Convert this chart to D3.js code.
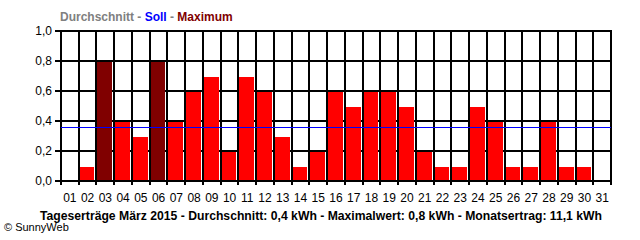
<!DOCTYPE html>
<html>
<head>
<meta charset="utf-8">
<script src="https://cdn.jsdelivr.net/npm/d3@7"></script>
<style>
  body { margin: 0; background: #fff; }
  text { font-family: "Liberation Sans", Arial, sans-serif; }
</style>
</head>
<body>
<div id="chart"></div>
<script>
  // Tageserträge März 2015
  var days = ["01","02","03","04","05","06","07","08","09","10","11","12","13","14","15","16",
              "17","18","19","20","21","22","23","24","25","26","27","28","29","30","31"];
  var ertrag = [0, 0.1, 0.8, 0.4, 0.3, 0.8, 0.4, 0.6, 0.7, 0.2, 0.7, 0.6, 0.3, 0.1, 0.2, 0.6,
                0.5, 0.6, 0.6, 0.5, 0.2, 0.1, 0.1, 0.5, 0.4, 0.1, 0.1, 0.4, 0.1, 0.1, 0];
  var yTicks = [0, 0.2, 0.4, 0.6, 0.8, 1.0];
  var sollLine = 0.357;
  var caption = "Tageserträge März 2015 - Durchschnitt: 0,4 kWh - Maximalwert: 0,8 kWh - Monatsertrag: 11,1 kWh";

  var width = 640, height = 240;

  var svg = d3.select("#chart").append("svg")
      .attr("width", width)
      .attr("height", height);

  var x = d3.scaleBand().domain(days).range([61, 611]);
  var y = d3.scaleLinear().domain([0, 1]).range([181, 31]);

  var de = d3.formatLocale({decimal: ",", thousands: ".", grouping: [3], currency: ["", "€"]});
  var fmt = de.format(".1f");
  var maxVal = d3.max(ertrag);

  // legend line on top
  var legend = svg.append("text")
      .attr("x", 60)
      .attr("y", 21)
      .style("font-size", "12px")
      .style("font-weight", "bold");
  legend.append("tspan").attr("fill", "#808080").text("Durchschnitt - ");
  legend.append("tspan").attr("fill", "#0000ff").text("Soll");
  legend.append("tspan").attr("fill", "#808080").text(" - ");
  legend.append("tspan").attr("fill", "#800000").text("Maximum");

  // horizontal grid lines (with small tick to the left)
  svg.append("g")
    .selectAll("line")
    .data(yTicks)
    .enter().append("line")
      .attr("x1", 55)
      .attr("x2", x.range()[1] + 1)
      .attr("y1", function(d) { return Math.round(y(d)); })
      .attr("y2", function(d) { return Math.round(y(d)); })
      .attr("stroke", "#000")
      .attr("stroke-width", 2);

  // vertical grid lines at day boundaries
  var bounds = days.map(function(d) { return x(d); }).concat([x.range()[1]]);
  svg.append("g")
    .selectAll("line")
    .data(bounds)
    .enter().append("line")
      .attr("x1", function(d) { return Math.round(d); })
      .attr("x2", function(d) { return Math.round(d); })
      .attr("y1", y(1) - 1)
      .attr("y2", y(0) + 4)
      .attr("stroke", "#000")
      .attr("stroke-width", 2);

  // bars
  svg.append("g")
    .selectAll("rect")
    .data(ertrag.map(function(v, i) { return {day: days[i], value: v}; }).filter(function(d) { return d.value > 0; }))
    .enter().append("rect")
      .attr("x", function(d) { return Math.round(x(d.day)) + 1; })
      .attr("width", function(d) { return Math.round(x(d.day) + x.bandwidth()) - Math.round(x(d.day)) - 3; })
      .attr("y", function(d) { return Math.round(y(d.value)) + 1; })
      .attr("height", function(d) { return Math.round(y(0)) - Math.round(y(d.value)) - 2; })
      .attr("fill", function(d) { return d.value === maxVal ? "#800000" : "#ff0000"; });

  // blue reference line
  svg.append("line")
      .attr("x1", x.range()[0])
      .attr("x2", x.range()[1])
      .attr("y1", Math.round(y(sollLine)) + 0.5)
      .attr("y2", Math.round(y(sollLine)) + 0.5)
      .attr("stroke", "#0000ff")
      .attr("stroke-width", 1);

  // y labels
  var yAxis = svg.append("g")
      .attr("transform", "translate(52,0)")
      .call(d3.axisLeft(y).tickValues(yTicks).tickFormat(fmt).tickSize(0).tickPadding(0));
  yAxis.select(".domain").remove();
  yAxis.selectAll("text")
      .style("font-size", "12px")
      .style("font-family", "'Liberation Sans', Arial, sans-serif")
      .attr("fill", "#000");

  // x labels
  var xAxis = svg.append("g")
      .attr("transform", "translate(0,193)")
      .call(d3.axisBottom(x).tickSize(0).tickPadding(0));
  xAxis.select(".domain").remove();
  xAxis.selectAll("text")
      .style("font-size", "12px")
      .style("font-family", "'Liberation Sans', Arial, sans-serif")
      .attr("fill", "#000");

  // caption
  svg.append("text")
      .attr("x", 40)
      .attr("y", 220)
      .attr("textLength", 562)
      .attr("lengthAdjust", "spacingAndGlyphs")
      .style("font-size", "13px")
      .style("font-weight", "bold")
      .text(caption);

  svg.append("text")
      .attr("x", 4)
      .attr("y", 231)
      .style("font-size", "11px")
      .text("© SunnyWeb");
</script>
</body>
</html>
